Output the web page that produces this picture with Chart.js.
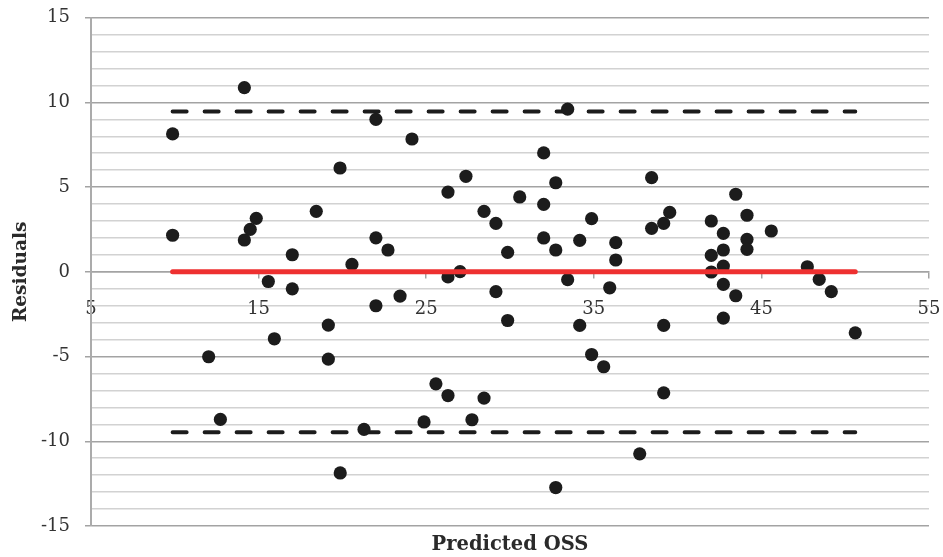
<!DOCTYPE html>
<html>
<head>
<meta charset="utf-8">
<title>Residuals vs Predicted OSS</title>
<script src="https://cdn.jsdelivr.net/npm/chart.js@4.4.1/dist/chart.umd.min.js"></script>
<style>
  body { margin: 0; background: #fff; }
  #wrap { width: 943px; height: 557px; }
</style>
</head>
<body>
<div id="wrap"><canvas id="residualChart"></canvas></div>
<script>
// Predicted OSS (x) and residual (y) for each case
const predicted = [
  9.87, 9.87, 12.02, 12.72, 14.15, 14.15, 14.5, 14.86, 15.58, 15.94,
  17.01, 17.01, 18.44, 19.16, 19.16, 19.86, 19.87, 20.57, 21.29, 22.0,
  22.0, 22.0, 22.72, 23.44, 24.15, 24.87, 25.58, 26.3, 26.3, 26.3,
  27.02, 27.37, 27.73, 28.45, 28.45, 29.16, 29.16, 29.86, 29.86, 30.58,
  32.01, 32.01, 32.01, 32.73, 32.73, 32.73, 33.44, 33.44, 34.16, 34.16,
  34.87, 34.87, 35.59, 35.95, 36.31, 36.31, 37.74, 38.45, 38.45, 39.17,
  39.17, 39.17, 39.53, 42.01, 42.01, 42.01, 42.73, 42.73, 42.73, 42.73,
  42.73, 43.47, 43.47, 44.14, 44.14, 44.14, 45.59, 47.74, 48.45, 49.17,
  50.6
];
const residuals = [
  8.14, 2.16, -5.01, -8.71, 10.87, 1.88, 2.51, 3.16, -0.57, -3.95,
  1.01, -1.0, 3.57, -3.14, -5.15, 6.13, -11.87, 0.44, -9.3, 9.0,
  2.01, -2.0, 1.29, -1.43, 7.84, -8.86, -6.61, 4.71, -0.3, -7.3,
  0.01, 5.64, -8.73, 3.57, -7.45, 2.86, -1.17, 1.15, -2.87, 4.42,
  7.02, 3.98, 2.0, 5.26, 1.29, -12.73, 9.6, -0.46, 1.86, -3.16,
  3.14, -4.88, -5.6, -0.94, 1.72, 0.7, -10.74, 5.56, 2.57, 2.86,
  -3.16, -7.14, 3.51, 3.0, 0.97, -0.01, 2.27, 1.29, 0.34, -0.74,
  -2.73, 4.58, -1.41, 3.34, 1.92, 1.33, 2.41, 0.3, -0.44, -1.17,
  -3.6
];

// limits of agreement and the zero reference
const upperLimit = 9.46;
const lowerLimit = -9.46;
const zeroLine = 0;

// tick labels shown on each axis
const xTicks = [5, 15, 25, 35, 45, 55];
const yTicks = [-15, -10, -5, 0, 5, 10, 15];

// horizontal reference lines run across the range of predicted values
const xMin = Math.min(...predicted);
const xMax = Math.max(...predicted);
const hLine = y => [{ x: xMin, y: y }, { x: xMax, y: y }];

const serif = '"DejaVu Serif", "Liberation Serif", serif';
const majorGrid = '#a3a3a3';
const minorGrid = '#d2d2d2';

const ctx = document.getElementById('residualChart').getContext('2d');
const chart = new Chart(ctx, {
    type: 'scatter',
    data: {
        datasets: [
            {
                label: 'Zero',
                data: hLine(zeroLine),
                showLine: true,
                borderColor: '#ee3030',
                borderWidth: 5,
                borderCapStyle: 'round',
                pointRadius: 0,
                order: 0
            },
            {
                label: 'Residuals',
                data: predicted.map((x, i) => ({ x: x, y: residuals[i] })),
                backgroundColor: '#1c1c1c',
                borderWidth: 0,
                pointRadius: 6.6,
                order: 1
            },
            {
                label: 'Upper limit',
                data: hLine(upperLimit),
                showLine: true,
                borderColor: '#1c1c1c',
                borderWidth: 4,
                borderDash: [14, 18],
                borderCapStyle: 'round',
                pointRadius: 0,
                order: 2
            },
            {
                label: 'Lower limit',
                data: hLine(lowerLimit),
                showLine: true,
                borderColor: '#1c1c1c',
                borderWidth: 4,
                borderDash: [14, 18],
                borderCapStyle: 'round',
                pointRadius: 0,
                order: 2
            }
        ]
    },
    options: {
        responsive: true,
        maintainAspectRatio: false,
        animation: false,
        layout: { padding: { top: 17, right: 14, left: 0, bottom: 0 } },
        plugins: {
            legend: { display: false },
            tooltip: { enabled: false }
        },
        scales: {
            x: {
                type: 'linear',
                position: { y: 0 },
                min: xTicks[0],
                max: xTicks[xTicks.length - 1],
                ticks: {
                    stepSize: xTicks[1] - xTicks[0],
                    padding: 0,
                    color: '#333',
                    // tall line box pushes the labels down below the zero line
                    font: { family: serif, size: 18, lineHeight: 3.5 },
                    callback: v => xTicks.includes(v) ? String(v) : ''
                },
                grid: {
                    drawOnChartArea: false,
                    tickLength: 6,
                    color: majorGrid,
                    lineWidth: 1.5
                },
                border: { display: true, color: majorGrid, width: 1.5 }
            },
            // carries only the bottom title, below the plot
            x2: {
                type: 'linear',
                axis: 'x',
                position: 'bottom',
                min: xTicks[0],
                max: xTicks[xTicks.length - 1],
                ticks: { display: false },
                grid: { display: false },
                border: { display: false },
                title: {
                    display: true,
                    text: 'Predicted OSS',
                    color: '#2a2a2a',
                    font: { family: serif, size: 19.5, weight: 'bold' },
                    padding: { top: 0, bottom: 0 }
                },
                afterFit: s => { s.height = 31; }
            },
            y: {
                type: 'linear',
                min: yTicks[0],
                max: yTicks[yTicks.length - 1],
                ticks: {
                    stepSize: 1,
                    autoSkip: false,
                    padding: 15,
                    color: '#333',
                    font: { family: serif, size: 18, lineHeight: 0.3 },
                    callback: v => yTicks.includes(v) ? String(v) : ''
                },
                grid: {
                    tickLength: 6,
                    lineWidth: 1.5,
                    color: c => yTicks.includes(c.tick.value) ? majorGrid : minorGrid,
                    tickColor: c => yTicks.includes(c.tick.value) ? majorGrid : 'rgba(0,0,0,0)'
                },
                border: { display: true, color: '#ababab', width: 2 },
                title: {
                    display: true,
                    text: 'Residuals',
                    color: '#2a2a2a',
                    font: { family: serif, size: 18.5, weight: 'bold' },
                    padding: { top: 10, bottom: 0 }
                },
                afterFit: s => { s.width = 91; }
            }
        }
    }
});
</script>
</body>
</html>
